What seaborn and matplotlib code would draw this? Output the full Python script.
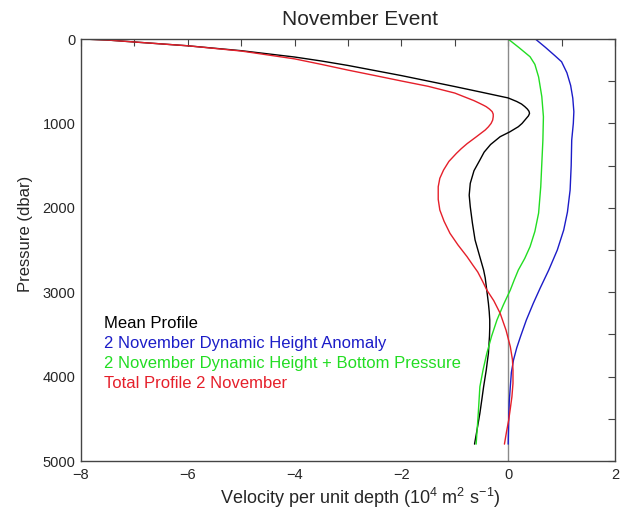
import numpy as np
import pandas as pd
import matplotlib
matplotlib.use("Agg")
import matplotlib.pyplot as plt
from matplotlib.ticker import MultipleLocator
import seaborn as sns

# Velocity-per-unit-depth profiles (10^4 m^2 s^-1) against pressure (dbar)
mean_p = [0, 12, 35, 80, 138, 213, 260, 313, 373, 433, 498, 563, 630, 698, 740, 770, 800,
          830, 856, 881, 910, 940, 1000, 1039, 1100, 1157, 1250, 1340, 1434, 1560, 1710,
          1850, 1987, 2180, 2381, 2560, 2737, 2830, 2930, 3030, 3132, 3230, 3329, 3420,
          3520, 3620, 3724, 3820, 3920, 4020, 4120, 4280, 4435, 4620, 4800]
mean_v = [-7.95, -7.5, -7.0, -6.0, -5.0, -4.0, -3.5, -3.0, -2.5, -2.0, -1.5, -1.0, -0.5,
          0.0, 0.16, 0.25, 0.31, 0.36, 0.39, 0.40, 0.38, 0.34, 0.26, 0.19, 0.03, -0.15,
          -0.33, -0.45, -0.53, -0.64, -0.71, -0.73, -0.71, -0.67, -0.62, -0.54, -0.46,
          -0.43, -0.41, -0.39, -0.37, -0.355, -0.345, -0.345, -0.35, -0.36, -0.37, -0.39,
          -0.41, -0.435, -0.46, -0.495, -0.53, -0.58, -0.63]

dha_p = [0, 100, 200, 269, 400, 550, 700, 861, 1000, 1197, 1500, 1789, 2050, 2263, 2500,
         2737, 2950, 3132, 3330, 3527, 3660, 3803, 3950, 4120, 4300, 4514, 4800]
dha_v = [0.51, 0.70, 0.88, 1.00, 1.10, 1.17, 1.21, 1.23, 1.22, 1.19, 1.18, 1.16, 1.11,
         1.04, 0.92, 0.76, 0.60, 0.47, 0.34, 0.23, 0.16, 0.10, 0.06, 0.04, 0.02, 0.01, 0.0]

dhbp_p = [0, 100, 210, 300, 450, 683, 920, 1200, 1473, 1750, 2062, 2280, 2460, 2600, 2737,
          2860, 2974, 3150, 3329, 3520, 3724, 3920, 4120, 4435, 4800]
dhbp_v = [0.0, 0.20, 0.41, 0.50, 0.57, 0.63, 0.66, 0.65, 0.63, 0.61, 0.57, 0.50, 0.41, 0.31,
          0.19, 0.11, 0.04, -0.09, -0.21, -0.31, -0.40, -0.47, -0.53, -0.56, -0.60]

total_p = [0, 12, 35, 80, 142, 235, 300, 368, 432, 497, 560, 640, 690, 730, 760, 785, 802,
           830, 860, 890, 920, 960, 1000, 1040, 1078, 1160, 1240, 1300, 1355, 1450, 1552,
           1650, 1750, 1900, 2026, 2160, 2302, 2440, 2579, 2680, 2760, 2870, 2974, 3100,
           3250, 3450, 3645, 3800, 3922, 4080, 4238, 4380, 4514, 4650, 4800]
total_v = [-7.95, -7.5, -7.0, -6.0, -5.0, -4.0, -3.5, -3.0, -2.5, -2.0, -1.5, -1.0, -0.80,
           -0.64, -0.54, -0.46, -0.41, -0.35, -0.30, -0.28, -0.28, -0.29, -0.32, -0.37,
           -0.43, -0.60, -0.77, -0.88, -0.97, -1.11, -1.21, -1.28, -1.31, -1.31, -1.28,
           -1.20, -1.09, -0.94, -0.77, -0.66, -0.57, -0.48, -0.40, -0.27, -0.15, -0.04,
           0.04, 0.08, 0.09, 0.09, 0.07, 0.04, 0.01, -0.03, -0.07]

series_names = ["Mean Profile",
                "2 November Dynamic Height Anomaly",
                "2 November Dynamic Height + Bottom Pressure",
                "Total Profile 2 November"]
series_colors = ["#000000", "#1c1cc8", "#22dd22", "#e51f2a"]

x_ticks = [-8, -6, -4, -2, 0, 2]
y_ticks = [0, 1000, 2000, 3000, 4000, 5000]

frames = []
for name, p, v in zip(series_names,
                      [mean_p, dha_p, dhbp_p, total_p],
                      [mean_v, dha_v, dhbp_v, total_v]):
    frames.append(pd.DataFrame({"series": name, "pressure": p, "velocity": v}))
df = pd.concat(frames, ignore_index=True)

sns.set_theme(style="white")
plt.rcParams["font.family"] = ["Liberation Sans", "DejaVu Sans"]
plt.rcParams["mathtext.fontset"] = "custom"
plt.rcParams["mathtext.rm"] = "Liberation Sans"
plt.rcParams["mathtext.it"] = "Liberation Sans"

fig = plt.figure(figsize=(6.22, 5.09), dpi=100)
ax = fig.add_axes([0.1302, 0.0943, 0.8585, 0.829])

ax.axvline(0, color="#8a8a8a", lw=1.0, zorder=1)

sns.lineplot(data=df, x="velocity", y="pressure", hue="series",
             hue_order=series_names, palette=dict(zip(series_names, series_colors)),
             sort=False, estimator=None, lw=1.0, legend=False, ax=ax, zorder=2)

ax.set_xlim(-8, 2)
ax.set_ylim(5000, 0)
ax.set_xticks(x_ticks)
ax.set_yticks(y_ticks)
ax.xaxis.set_minor_locator(MultipleLocator(1))
ax.yaxis.set_minor_locator(MultipleLocator(500))
ax.tick_params(which="both", direction="in", top=True, right=True,
               length=5, width=0.8, color="#444444", labelsize=10.5)
ax.tick_params(axis="x", pad=5)
ax.tick_params(axis="y", pad=4)

for s in ax.spines.values():
    s.set_color("#444444")
    s.set_linewidth(1.0)

ax.set_title("November Event", fontsize=15, pad=10, x=0.522)
ax.set_xlabel(r"Velocity per unit depth (10$^{4}$ m$^{2}$ s$^{-1}$)", fontsize=13)
ax.xaxis.set_label_coords(0.522, -0.058)
ax.set_ylabel("Pressure (dbar)", fontsize=12)
ax.yaxis.set_label_coords(-0.090, 0.538)

for i, (name, col) in enumerate(zip(series_names, series_colors)):
    ax.text(0.043, 0.327 - i * 0.0474, name, color=col, fontsize=12,
            transform=ax.transAxes, ha="left", va="center")

fig.savefig("out.png", dpi=100, facecolor="white")
